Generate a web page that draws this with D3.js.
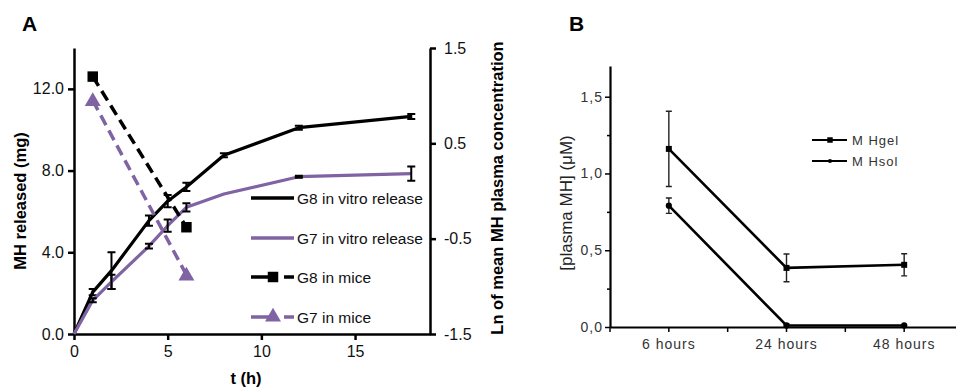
<!DOCTYPE html>
<html><head><meta charset="utf-8">
<script src="https://cdn.jsdelivr.net/npm/d3@7"></script>
<style>body{margin:0;background:#fff}svg{display:block}</style>
</head><body><svg id="c" width="956" height="391"></svg>
<script>
// ---- Panel A data ----
const timesVitro = [0, 1, 2, 4, 5, 6, 8, 12, 18];
const g8Vitro    = [0, 2.05, 3.1, 5.55, 6.5, 7.2, 8.75, 10.1, 10.65];
const g8VitroErr = [0, 0.15, 0.9, 0.25, 0.3, 0.2, 0.1, 0.1, 0.12];
const g7Vitro    = [0, 1.65, 2.55, 4.3, 5.3, 6.2, 6.85, 7.7, 7.85];
const g7VitroErr = [0, 0.1, 0.35, 0.12, 0.3, 0.2, 0, 0.05, 0.35];
const timesMice = [1, 6];
const g8Mice = [1.2, -0.38];
const g7Mice = [0.95, -0.88];
const leftTicks = [0, 4, 8, 12];
const rightTicks = [-1.5, -0.5, 0.5, 1.5];
const xTicksA = [0, 5, 10, 15];
const legendA = ["G8 in vitro release", "G7 in vitro release", "G8 in mice", "G7 in mice"];
// ---- Panel B data ----
const catsB = ["6 hours", "24 hours", "48 hours"];
const mhGel = [1.16, 0.385, 0.405];
const mhGelErr = [0.245, 0.09, 0.072];
const mhSol = [0.79, 0.01, 0.01];
const mhSolErr = [0.05, 0.01, 0.005];
const yTicksB = [0, 0.5, 1.0, 1.5];
const yMinorB = [0.25, 0.75, 1.25];
const legendB = ["M Hgel", "M Hsol"];

const purple = "#7f63a3";
const svg = d3.select("#c");
const FONT = "Arial, 'Liberation Sans', sans-serif";
const fmt1 = d => d3.format(".1f")(d).replace("\u2212", "-");

// ===== Panel A =====
const xA = d3.scaleLinear().domain([0, 19]).range([74, 430]);
const yL = d3.scaleLinear().domain([0, 14]).range([334, 48]);
const yR = d3.scaleLinear().domain([-1.5, 1.5]).range([334, 48]);
const gA = svg.append("g");

const axL = gA.append("g").attr("transform", "translate(74,0)")
  .call(d3.axisLeft(yL).tickValues(leftTicks).tickFormat(fmt1).tickSize(6).tickSizeOuter(0));
const axR = gA.append("g").attr("transform", "translate(430,0)")
  .call(d3.axisRight(yR).tickValues(rightTicks).tickFormat(fmt1).tickSize(6).tickSizeOuter(0));
const axX = gA.append("g").attr("transform", "translate(0,334)")
  .call(d3.axisBottom(xA).tickValues(xTicksA).tickFormat(d3.format("d")).tickSize(6).tickSizeOuter(0));
[axL, axR, axX].forEach(a => {
  a.selectAll("path,line").attr("stroke", "#000").attr("stroke-width", 2.5);
  a.selectAll("text").attr("font-family", FONT).attr("font-size", 16).attr("fill", "#111");
});
axL.selectAll("text").attr("x", -10);
axR.selectAll("text").attr("x", 14);
axX.selectAll("text").attr("y", 12);

gA.append("text").attr("x", 22).attr("y", 31).text("A")
  .attr("font-family", FONT).attr("font-size", 21).attr("font-weight", "bold");
gA.append("text").attr("transform", "translate(26,201) rotate(-90)").attr("text-anchor", "middle")
  .attr("font-family", FONT).attr("font-size", 16.5).attr("font-weight", "bold").text("MH released (mg)");
gA.append("text").attr("x", 246).attr("y", 384).attr("text-anchor", "middle")
  .attr("font-family", FONT).attr("font-size", 16.5).attr("font-weight", "bold").text("t (h)");
gA.append("text").attr("transform", "translate(503,188) rotate(-90)").attr("text-anchor", "middle")
  .attr("font-family", FONT).attr("font-size", 16.5).attr("font-weight", "bold").text("Ln of mean MH plasma concentration");

const lineA = d3.line();
function vitro(vals, errs, color) {
  const pts = timesVitro.map((t, i) => [xA(t), yL(vals[i])]);
  gA.append("path").attr("d", lineA(pts)).attr("fill", "none").attr("stroke", color)
    .attr("stroke-width", 3.2).attr("stroke-linejoin", "round");
  timesVitro.forEach((t, i) => {
    if (!errs[i]) return;
    const x = xA(t), y1 = yL(vals[i] + errs[i]), y2 = yL(vals[i] - errs[i]);
    gA.append("path").attr("d", `M${x},${y1}V${y2}M${x-4},${y1}H${x+4}M${x-4},${y2}H${x+4}`)
      .attr("stroke", "#000").attr("stroke-width", 2).attr("fill", "none");
  });
}
vitro(g8Vitro, g8VitroErr, "#000");
vitro(g7Vitro, g7VitroErr, purple);

const lineM = d3.line();
gA.append("path").attr("d", lineM(timesMice.map((t, i) => [xA(t), yR(g8Mice[i])])))
  .attr("fill", "none").attr("stroke", "#000").attr("stroke-width", 3.5).attr("stroke-dasharray", "11,6");
gA.append("path").attr("d", lineM(timesMice.map((t, i) => [xA(t), yR(g7Mice[i])])))
  .attr("fill", "none").attr("stroke", purple).attr("stroke-width", 3.5).attr("stroke-dasharray", "11,6");
const sq = d3.symbol().type(d3.symbolSquare).size(110);
const tri = d3.symbol().type(d3.symbolTriangle).size(110);
timesMice.forEach((t, i) => {
  gA.append("path").attr("d", sq()).attr("transform", `translate(${xA(t)},${yR(g8Mice[i])})`).attr("fill", "#000");
  gA.append("path").attr("d", tri()).attr("transform", `translate(${xA(t)},${yR(g7Mice[i]) + 1})`).attr("fill", purple);
});

// Legend A
const legY = [198, 238, 277, 317];
legendA.forEach((lab, i) => {
  const y = legY[i], col = (i % 2 === 0) ? "#000" : purple;
  const p = gA.append("path").attr("d", `M251,${y}H294`).attr("stroke", col).attr("stroke-width", 3.5);
  if (i >= 2) {
    p.attr("stroke-dasharray", "26,7,10");
    gA.append("path").attr("d", (i === 2 ? sq : tri)()).attr("transform", `translate(273,${y})`).attr("fill", col);
  }
  gA.append("text").attr("x", 297).attr("y", y + 5.5).text(lab)
    .attr("font-family", FONT).attr("font-size", 15.5).attr("fill", "#111");
});

// ===== Panel B =====
const xB = d3.scaleBand().domain(catsB).range([610, 963]);
const yB = d3.scaleLinear().domain([0, 1.7]).range([327, 66]);
const gB = svg.append("g");
gB.append("text").attr("x", 569).attr("y", 31).text("B")
  .attr("font-family", FONT).attr("font-size", 21).attr("font-weight", "bold");

const axBY = gB.append("g").attr("transform", "translate(610,0)")
  .call(d3.axisLeft(yB).tickValues(yTicksB).tickFormat(d => d3.format(".1f")(d).replace(".", ",")).tickSize(5).tickSizeOuter(0));
gB.append("g").attr("transform", "translate(610,0)")
  .call(d3.axisLeft(yB).tickValues(yMinorB).tickFormat("").tickSize(3).tickSizeOuter(0))
  .call(g => { g.select(".domain").remove(); g.selectAll("line").attr("stroke", "#000").attr("stroke-width", 1.5); });
const axBX = gB.append("g").attr("transform", "translate(0,327)")
  .call(d3.axisBottom(xB).tickSize(5).tickSizeOuter(0));
gB.append("g").attr("transform", "translate(0,327)").selectAll("line")
  .data([0, 1, 2]).join("line")
  .attr("x1", i => xB.range()[0] + i * xB.step()).attr("x2", i => xB.range()[0] + i * xB.step())
  .attr("y1", 0).attr("y2", 5).attr("stroke", "#000").attr("stroke-width", 1.5);
[axBY, axBX].forEach(a => {
  a.selectAll("path").attr("stroke", "#000").attr("stroke-width", 2.2);
  a.selectAll("line").attr("stroke", "#000").attr("stroke-width", 1.5);
  a.selectAll("text").attr("font-family", FONT).attr("font-size", 14).attr("fill", "#333").attr("letter-spacing", "1px");
});
axBY.selectAll("text").attr("x", -7);
axBX.selectAll("text").attr("y", 12);

gB.append("text").attr("transform", "translate(572,203) rotate(-90)").attr("text-anchor", "middle")
  .attr("font-family", FONT).attr("font-size", 17).attr("fill", "#222").text("[plasma MH] (\u03bcM)");

const cx = c => xB(c) + xB.bandwidth() / 2;
function seriesB(vals, errs, marker) {
  gB.append("path").attr("d", d3.line()(catsB.map((c, i) => [cx(c), yB(vals[i])])))
    .attr("fill", "none").attr("stroke", "#000").attr("stroke-width", 2.6);
  catsB.forEach((c, i) => {
    const x = cx(c), y1 = yB(vals[i] + errs[i]), y2 = yB(vals[i] - errs[i]);
    gB.append("path").attr("d", `M${x},${y1}V${y2}M${x-3},${y1}H${x+3}M${x-3},${y2}H${x+3}`)
      .attr("stroke", "#222").attr("stroke-width", 1.4).attr("fill", "none");
    gB.append("path").attr("d", marker()).attr("transform", `translate(${x},${yB(vals[i])})`).attr("fill", "#000");
  });
}
const sqB = d3.symbol().type(d3.symbolSquare).size(36);
const ciB = d3.symbol().type(d3.symbolCircle).size(30);
seriesB(mhGel, mhGelErr, sqB);
seriesB(mhSol, mhSolErr, ciB);

const legBY = [140, 161];
legendB.forEach((lab, i) => {
  const y = legBY[i];
  gB.append("path").attr("d", `M812,${y}H847`).attr("stroke", "#000").attr("stroke-width", 2);
  gB.append("path").attr("d", (i === 0 ? d3.symbol().type(d3.symbolSquare).size(30) : d3.symbol().type(d3.symbolCircle).size(14))())
    .attr("transform", `translate(830,${y})`).attr("fill", "#000");
  gB.append("text").attr("x", 852).attr("y", y + 5).text(lab)
    .attr("font-family", FONT).attr("font-size", 13).attr("fill", "#333").attr("letter-spacing", "1px");
});
</script></body></html>
